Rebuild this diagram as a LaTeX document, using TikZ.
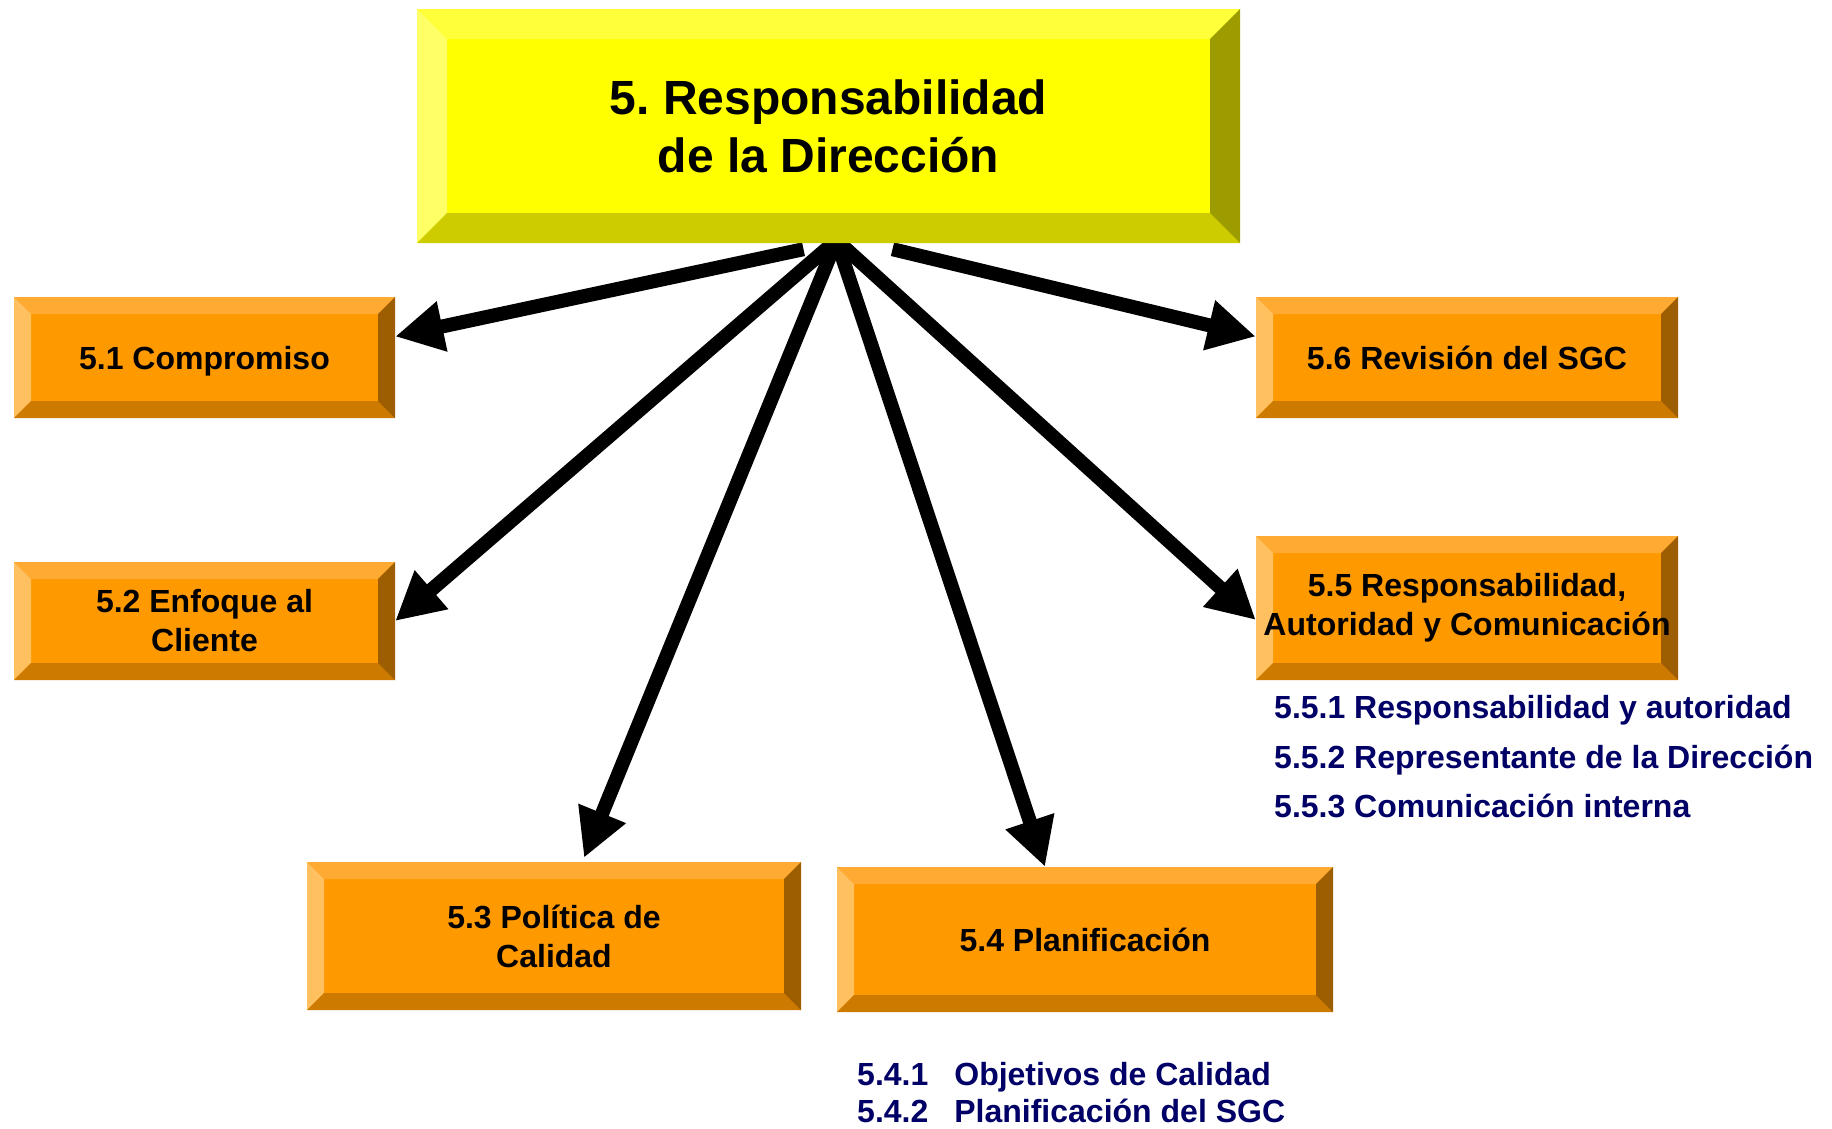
\documentclass[tikz,border=0pt]{standalone}
\usepackage{fontspec}
\setmainfont{Liberation Sans}
\usetikzlibrary{arrows.meta,backgrounds}
\frenchspacing

\definecolor{yface}{HTML}{FFFF00}
\definecolor{ytop}{HTML}{FFFF3A}
\definecolor{yleft}{HTML}{FFFF66}
\definecolor{ybot}{HTML}{CCCC00}
\definecolor{yright}{HTML}{9C9C00}
\definecolor{oface}{HTML}{FF9900}
\definecolor{otop}{HTML}{FFAA33}
\definecolor{oleft}{HTML}{FFC060}
\definecolor{obot}{HTML}{CC7A00}
\definecolor{oright}{HTML}{9C5E00}
\definecolor{subnavy}{HTML}{000066}

\tikzset{
  bevelled/.style n args={5}{path picture={
    \coordinate (bbnw) at (path picture bounding box.north west);
    \coordinate (bbne) at (path picture bounding box.north east);
    \coordinate (bbsw) at (path picture bounding box.south west);
    \coordinate (bbse) at (path picture bounding box.south east);
    \fill[#2] (bbnw) -- (bbne) -- ([shift={(-#1,-#1)}]bbne) -- ([shift={(#1,-#1)}]bbnw) -- cycle;
    \fill[#3] (bbnw) -- ([shift={(#1,-#1)}]bbnw) -- ([shift={(#1,#1)}]bbsw) -- (bbsw) -- cycle;
    \fill[#4] (bbsw) -- ([shift={(#1,#1)}]bbsw) -- ([shift={(-#1,#1)}]bbse) -- (bbse) -- cycle;
    \fill[#5] (bbne) -- (bbse) -- ([shift={(-#1,#1)}]bbse) -- ([shift={(-#1,-#1)}]bbne) -- cycle;
  }},
  headbox/.style={rectangle, inner sep=0pt, align=center, fill=yface,
    bevelled={30pt}{ytop}{yleft}{ybot}{yright},
    font=\fontsize{48}{58}\selectfont\bfseries},
  clausebox/.style={rectangle, inner sep=0pt, align=center, fill=oface,
    bevelled={17pt}{otop}{oleft}{obot}{oright},
    font=\fontsize{32}{39}\selectfont\bfseries},
  clause/.style={anchor=base west, inner sep=0pt, text=subnavy,
    font=\fontsize{32}{39}\selectfont\bfseries},
  link/.style={line width=14pt, -{Triangle[length=48pt,width=48pt]}}
}

\begin{document}
\begin{tikzpicture}[x=1pt,y=-1pt]
  \useasboundingbox (0,0) rectangle (1832,1128);

  % main clause
  \node[headbox, minimum width=823pt, minimum height=234pt] (head) at (828.5,126)
    {5. Responsabilidad\\de la Dirección};

  % sub-clauses
  \node[clausebox, minimum width=381pt, minimum height=121pt, text depth=0pt] (c51) at (204.5,357.5) {5.1 Compromiso};
  \node[clausebox, minimum width=381pt, minimum height=118pt] (c52) at (204.5,621) {5.2 Enfoque al\\Cliente};
  \node[clausebox, minimum width=494pt, minimum height=148pt] (c53) at (554,936) {5.3 Política de\\Calidad};
  \node[clausebox, minimum width=496pt, minimum height=145pt] (c54) at (1085,939.5) {5.4 Planificación};
  \node[clausebox, minimum width=422pt, minimum height=144pt] (c55) at (1467,608) {5.5 Responsabilidad,\\Autoridad y Comunicación};
  \node[clausebox, minimum width=422pt, minimum height=121pt] (c56) at (1467,357.5) {5.6 Revisión del SGC};

  % lists under 5.5 and 5.4
  \node[clause] (l551) at (1274,718) {5.5.1 Responsabilidad y autoridad};
  \node[clause] (l552) at (1274,768) {5.5.2 Representante de la Dirección};
  \node[clause] (l553) at (1274,817) {5.5.3 Comunicación interna};
  \node[clause] (l541) at (857,1085) {5.4.1\hspace{26pt}Objetivos de Calidad};
  \node[clause] (l542) at (857,1122) {5.4.2\hspace{26pt}Planificación del SGC};

  % arrows
  \coordinate (hubL) at ([xshift=-25pt,yshift=-6pt]head.south);
  \coordinate (hub)  at ([xshift=8pt,yshift=3pt]head.south);
  \coordinate (hubR) at ([xshift=64pt,yshift=-6pt]head.south);
  \begin{scope}[on background layer]
    \draw[link] (hubL) -- ([yshift=21pt]c51.east);
    \draw[link] (hub) -- (c52.east);
    \draw[link] (hub) -- ([xshift=30pt,yshift=4pt]c53.north);
    \draw[link] (hub) -- ([xshift=-40pt]c54.north);
    \draw[link] (hub) -- ([yshift=-12pt]c55.west);
    \draw[link] (hubR) -- ([yshift=21pt]c56.west);
  \end{scope}
\end{tikzpicture}
\end{document}
